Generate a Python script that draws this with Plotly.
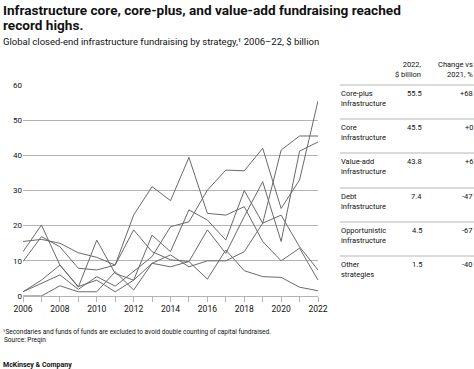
import plotly.graph_objects as go

# ---------------- data ----------------
years = list(range(2006, 2023))
x_tick_labels = [str(y) if y % 2 == 0 else "" for y in years]
y_ticks = [0, 10, 20, 30, 40, 50, 60]

core_plus = [1.2, 3.6, 6.0, 1.9, 5.5, 2.8, 6.9, 11.2, 19.7, 21.1, 30.1, 35.8, 35.6, 42.0, 24.9, 33.0, 55.5]
core = [1.2, 4.5, 8.8, 2.7, 4.5, 1.2, 4.5, 17.3, 12.6, 24.5, 21.6, 15.9, 30.0, 20.7, 41.5, 45.5, 45.5]
value_add = [9.8, 16.9, 14.0, 7.9, 7.4, 8.8, 18.8, 12.6, 10.3, 9.8, 18.8, 12.1, 22.6, 32.5, 15.5, 41.2, 43.8]
debt = [0.0, 0.0, 2.9, 1.2, 1.2, 6.9, 1.7, 9.3, 11.7, 8.3, 10.0, 10.0, 12.6, 20.7, 23.0, 14.0, 7.4]
opportunistic = [15.5, 16.1, 15.0, 12.3, 11.0, 8.8, 23.0, 31.1, 27.1, 39.4, 23.5, 23.0, 25.4, 15.5, 10.0, 13.6, 4.5]
other = [12.6, 20.2, 8.8, 2.5, 15.9, 6.4, 4.5, 9.3, 8.3, 9.8, 4.8, 13.1, 7.2, 5.5, 5.3, 2.5, 1.5]

series_names = ["Core-plus", "Core", "Value-add", "Debt", "Opportunistic", "Other"]
series_sub = ["infrastructure", "infrastructure", "infrastructure", "infrastructure", "infrastructure", "strategies"]
series_values = [core_plus, core, value_add, debt, opportunistic, other]

title_lines = ["Infrastructure core, core-plus, and value-add fundraising reached", "record highs."]
subtitle = "Global closed-end infrastructure fundraising by strategy,¹ 2006–22, $ billion"
col_headers = ["2022,<br>$ billion", "Change vs<br>2021, %"]
footnote = "¹Secondaries and funds of funds are excluded to avoid double counting of capital fundraised."
source = "Source: Preqin"
brand = "McKinsey & Company"

# ---------------- layout helpers ----------------
W, H = 474, 369
L, R, T, B = 23, 318, 85, 296
def px(x):
    return (x - L) / (R - L)
def py(y):
    return (B - y) / (B - T)

LINE = "#6a6a6a"
GRID = "#b5b5b5"
TXT = "#111111"
FONT = "Roboto"

fig = go.Figure()
for name, vals in zip(series_names, series_values):
    fig.add_trace(go.Scatter(x=years, y=vals, mode="lines", name=name,
                             line=dict(color=LINE, width=1), showlegend=False))

fig.update_layout(
    width=W, height=H,
    margin=dict(l=L, r=W - R, t=T, b=H - B),
    paper_bgcolor="white", plot_bgcolor="white",
    font=dict(family=FONT, color=TXT, size=8),
    xaxis=dict(range=[years[0], years[-1]], tickvals=years, ticktext=x_tick_labels,
               ticks="outside", ticklen=5, tickcolor=GRID, tickwidth=1,
               showgrid=False, zeroline=False, showline=True, linecolor=GRID,
               tickfont=dict(size=8.5, family=FONT, color=TXT)),
    yaxis=dict(range=[0, 60], tickvals=y_ticks, showgrid=True, gridcolor=GRID,
               gridwidth=1, zeroline=False, showline=False,
               tickfont=dict(size=8, family=FONT, color=TXT)),
)

ann = []
ann.append(dict(text="<b>" + title_lines[0] + "</b>", x=px(1), y=py(0), xanchor="left", yanchor="top",
                font=dict(size=13.6, family=FONT, color=TXT)))
ann.append(dict(text="<b>" + title_lines[1] + "</b>", x=px(1), y=py(15), xanchor="left", yanchor="top",
                font=dict(size=13.6, family=FONT, color=TXT)))
ann.append(dict(text=subtitle, x=px(1), y=py(34), xanchor="left", yanchor="top",
                font=dict(size=9.5, family=FONT, color=TXT)))
ann.append(dict(text=col_headers[0], x=px(424), y=py(58), xanchor="right", yanchor="top", align="right",
                font=dict(size=7.5, family=FONT, color=TXT)))
ann.append(dict(text=col_headers[1], x=px(475), y=py(58), xanchor="right", yanchor="top", align="right",
                font=dict(size=7.5, family=FONT, color=TXT)))

shapes = []
row_tops = [85, 119, 153, 188, 222, 256]
for i, (name, sub, vals) in enumerate(zip(series_names, series_sub, series_values)):
    top = row_tops[i]
    shapes.append(dict(type="line", xref="paper", yref="paper", x0=px(340), x1=px(474),
                       y0=py(top), y1=py(top), line=dict(color=GRID, width=1)))
    ann.append(dict(text=name + "<br>" + sub, x=px(339), y=py(top + 2), xanchor="left", yanchor="top",
                    align="left", font=dict(size=7.5, family=FONT, color=TXT)))
    last, prev = vals[-1], vals[-2]
    chg = (last - prev) / prev * 100
    ann.append(dict(text=f"{last:.1f}", x=px(424), y=py(top + 2), xanchor="right", yanchor="top",
                    font=dict(size=7.5, family=FONT, color=TXT)))
    ann.append(dict(text=f"{chg:+.0f}", x=px(475), y=py(top + 2), xanchor="right", yanchor="top",
                    font=dict(size=7.5, family=FONT, color=TXT)))

ann.append(dict(text=footnote, x=px(1), y=py(326), xanchor="left", yanchor="top",
                font=dict(size=6.5, family=FONT, color=TXT)))
ann.append(dict(text=source, x=px(2), y=py(334), xanchor="left", yanchor="top",
                font=dict(size=6.5, family=FONT, color=TXT)))
ann.append(dict(text="<b>" + brand + "</b>", x=px(1), y=py(359), xanchor="left", yanchor="top",
                font=dict(size=7, family=FONT, color=TXT)))

for a in ann:
    a.update(xref="paper", yref="paper", showarrow=False)
fig.update_layout(annotations=ann, shapes=shapes)

fig.write_html("out.html", config={"displayModeBar": False},
               post_script="document.body.style.margin='0';document.body.style.overflow='hidden';")
